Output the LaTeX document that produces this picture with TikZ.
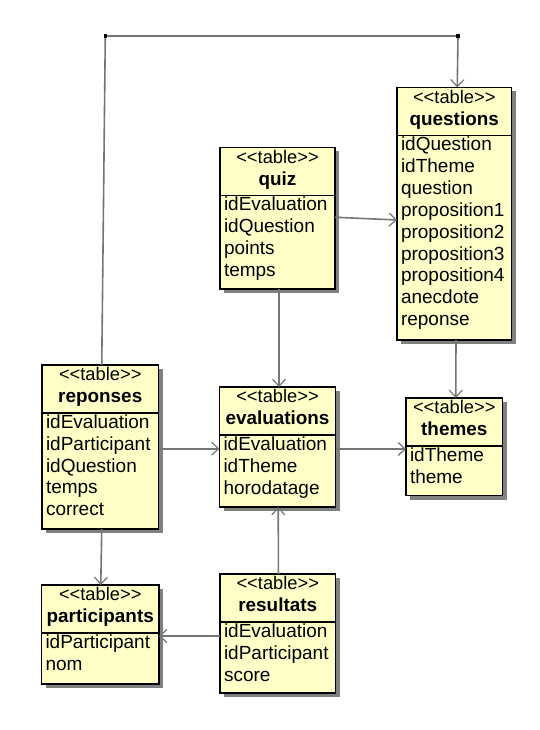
\documentclass[tikz,border=0pt]{standalone}
\usepackage{fontspec}
\setmainfont{Liberation Sans}
\usetikzlibrary{arrows.meta,shadows}
\definecolor{tblfill}{RGB}{255,255,200}
\definecolor{linegray}{RGB}{118,118,118}
\definecolor{shadowgray}{RGB}{128,128,128}
\tikzset{
  tblbox/.style={draw=black, line width=1.3pt, fill=tblfill, anchor=north west,
    inner sep=0pt, outer sep=0pt,
    drop shadow={shadow xshift=4pt, shadow yshift=-4pt, fill=shadowgray, opacity=1}},
  divline/.style={draw=black, line width=1.1pt},
  stereo/.style={anchor=base, inner sep=0pt, font=\fontsize{18.3}{21}\selectfont},
  ttl/.style={anchor=base, inner sep=0pt, font=\fontsize{18.9}{22}\selectfont\bfseries},
  rowtxt/.style={anchor=base west, inner sep=0pt, font=\fontsize{19}{22}\selectfont},
  conn/.style={draw=linegray, line width=1.6pt, -{Straight Barb[length=7pt,width=13pt,line width=1.2pt]}},
}
\newcommand\umltbl[7]{% name, x, y, w, h, title, rows
  \node[tblbox, minimum width=#4pt, minimum height=#5pt] (#1) at (#2,#3) {};
  \draw[divline] ([yshift=-48pt]#1.north west) -- ([yshift=-48pt]#1.north east);
  \node[stereo] (#1-st) at ([yshift=-15.7pt]#1.north) {<{}<table>{}>};
  \node[ttl] (#1-tt) at ([yshift=-37.7pt]#1.north) {#6};
  \foreach \r [count=\i from 0] in {#7}
    \node[rowtxt] (#1-r\i) at ([xshift=3.8pt, yshift={-63.3-21.85*\i}]#1.north west) {\r};
}
\begin{document}
\begin{tikzpicture}[x=1pt,y=-1pt]
\fill[white] (0,0) rectangle (540,730);
\useasboundingbox (0,0) rectangle (540,730);

\umltbl{questions}{397}{87.5}{114.5}{252.5}{questions}{idQuestion,idTheme,question,proposition1,proposition2,proposition3,proposition4,anecdote,reponse}
\umltbl{quiz}{220}{147.5}{115}{141.5}{quiz}{idEvaluation,idQuestion,points,temps}
\umltbl{reponses}{42}{365}{116.5}{164}{reponses}{idEvaluation,idParticipant,idQuestion,temps,correct}
\umltbl{evaluations}{219.5}{387}{116}{120}{evaluations}{idEvaluation,idTheme,horodatage}
\umltbl{themes}{406}{398}{96.5}{97.5}{themes}{idTheme,theme}
\umltbl{participants}{41.5}{585}{117.5}{99}{participants}{idParticipant,nom}
\umltbl{resultats}{220}{574}{115.5}{119}{resultats}{idEvaluation,idParticipant,score}

\coordinate (c1) at (105.3,36);
\coordinate (c2) at (458,36);

\draw[conn] ([xshift=1.5pt]reponses.north) -- (c1) -- (c2) -- ([xshift=3pt]questions.north);
\fill[black] (c1) +(-1.7,-1.7) rectangle +(1.7,1.7);
\fill[black] (c2) +(-1.7,-1.7) rectangle +(1.7,1.7);

\draw[conn] ([yshift=1pt]quiz.east) -- ([yshift=-6.25pt]questions.west);
\draw[conn] ([xshift=1.5pt]quiz.south) -- ([xshift=1.5pt]evaluations.north);
\draw[conn] ([xshift=1.75pt]questions.south) -- ([xshift=1.5pt]themes.north);
\draw[conn] ([yshift=-1.7pt]reponses.east) -- ([yshift=-1.7pt]evaluations.west);
\draw[conn] ([yshift=-2pt]evaluations.east) -- ([yshift=-2.25pt]themes.west);
\draw[conn] ([xshift=1.5pt]reponses.south) -- ([xshift=0.5pt]participants.north);
\draw[conn] ([xshift=0.7pt]resultats.north) -- ([xshift=0.7pt]evaluations.south);
\draw[conn] ([yshift=-2.5pt]resultats.west) -- ([yshift=-1.5pt]participants.east);
\end{tikzpicture}
\end{document}
